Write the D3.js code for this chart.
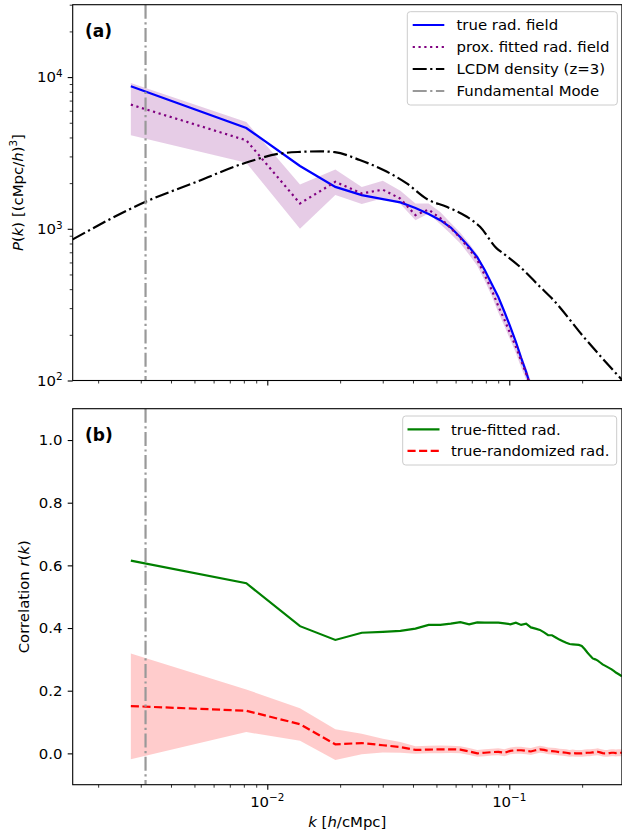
<!DOCTYPE html>
<html><head><meta charset="utf-8">
<script src="https://cdn.jsdelivr.net/npm/d3@7"></script>
<style>
body{margin:0;background:#fff}
svg{display:block}
text{font-family:"DejaVu Sans",sans-serif;fill:#000}
</style>
</head><body><div id="chart"></div>
<script>
// ---------------- DATA ----------------
const kBins = [0.00273,0.00819,0.01365,0.01911,0.02457,0.03003,0.03549,0.04095,0.04641,0.05187,
  0.05733,0.06279,0.06825,0.07371,0.07917,0.08463,0.09009,0.09555,0.10101,0.10647,
  0.11193,0.11739,0.12285,0.12831,0.13377,0.13923,0.14469,0.15015,0.15561,0.16107,
  0.16653,0.17199,0.17745,0.18291,0.18837,0.19383,0.19929,0.20475,0.21021,0.21567,
  0.22113,0.22659,0.23205,0.23751,0.24297,0.24843,0.25389,0.25935,0.26481,0.27027,
  0.27573,0.28119,0.28665,0.29211];
const pTrue   = [8690,4617,2595,1888,1667,1570,1492,1370,1250,1140,1020,880,760,650,535,432,355,283,226,180,141,114,90];
const pFitted = [6580,3830,1469,2040,1710,1810,1580,1230,1337,1175,1011,869,736,623,496,395,309,251,203,167,135,111,90];
const pFittedHi = [9130,5060,1960,2460,1888,2070,1780,1469,1469,1290,1092,940,800,680,545,435,340,276,223,184,149,122,99];
const pFittedLo = [4130,2720,1000,1667,1456,1592,1456,1140,1262,1070,923,800,675,570,455,360,281,228,185,152,122,101,82];
const lcdmK = [0.00157,0.00314,0.0051,0.0082,0.0113,0.0137,0.0165,0.0190,0.0241,0.0302,0.0377,0.0460,0.0551,0.0668,0.0757,0.0887,0.0944,0.1106,0.1339,0.152,0.2023,0.292];
const lcdmP = [851,1507,2040,2735,3134,3213,3240,3200,2840,2440,1990,1560,1396,1200,1030,743,689,562,415,340,195,101];
const kFundamental = 0.00314;
const rFitted = [0.615,0.543,0.406,0.362,0.385,0.388,0.391,0.398,0.410,0.410,
  0.414,0.419,0.412,0.418,0.417,0.417,0.417,0.415,0.412,0.417,
  0.410,0.414,0.402,0.398,0.394,0.386,0.377,0.377,0.370,0.363,
  0.358,0.353,0.349,0.348,0.347,0.346,0.343,0.333,0.322,0.312,
  0.303,0.300,0.296,0.290,0.284,0.280,0.276,0.272,0.268,0.263,
  0.258,0.254,0.250,0.246];
const rRandom = [0.151,0.136,0.093,0.029,0.033,0.026,0.020,0.011,0.012,0.013,
  0.013,0.012,0.006,0.000,0.002,0.004,0.005,0.002,0.008,0.010,
  0.010,0.008,0.006,0.010,0.013,0.011,0.008,0.007,0.006,0.004,
  0.003,0.002,0.000,0.001,0.000,0.000,0.000,0.001,0.002,0.002,
  0.003,0.004,0.005,0.003,0.001,0.000,0.000,0.001,0.002,0.002,
  0.001,0.002,0.002,0.002];
const rRandomLo = [-0.019,0.068,0.040,-0.021,-0.003,0.003,0.002,-0.001,0.000,0.000,
  0.001,0.000,-0.005,-0.011,-0.009,-0.007,-0.006,-0.009,-0.003,-0.001,
  -0.001,-0.003,-0.005,-0.001,0.002,0.000,-0.003,-0.004,-0.005,-0.007,
  -0.008,-0.009,-0.011,-0.010,-0.011,-0.011,-0.011,-0.010,-0.009,-0.009,
  -0.008,-0.007,-0.006,-0.008,-0.010,-0.011,-0.011,-0.010,-0.009,-0.009,
  -0.010,-0.009,-0.009,-0.009];
const rRandomHi = [0.319,0.204,0.144,0.077,0.063,0.047,0.036,0.023,0.024,0.025,
  0.024,0.023,0.017,0.011,0.013,0.015,0.016,0.013,0.019,0.021,
  0.021,0.019,0.017,0.021,0.024,0.022,0.019,0.018,0.017,0.015,
  0.014,0.013,0.011,0.012,0.011,0.011,0.011,0.012,0.013,0.013,
  0.014,0.015,0.016,0.014,0.012,0.011,0.011,0.012,0.013,0.013,
  0.012,0.013,0.013,0.013];
const xTicksMajor = [0.01, 0.1];
const xTickExp = ["−2", "−1"];
const yTicksTop = [100, 1000, 10000];
const yTickTopExp = ["2", "3", "4"];
const yTicksBottom = [0.0, 0.2, 0.4, 0.6, 0.8, 1.0];
const legendTop = ["true rad. field", "prox. fitted rad. field", "LCDM density (z=3)", "Fundamental Mode"];
const legendBottom = ["true-fitted rad.", "true-randomized rad."];

// ---------------- LAYOUT ----------------
const W = 622, H = 832;
const L = 72.7, R = 621.9;
const t1 = 4.7, b1 = 380.5, t2 = 408.7, b2 = 784.7;
const FS = 14.9, SUP = 10.4;
const svg = d3.select("#chart").append("svg").attr("width", W).attr("height", H);

const x = d3.scaleLog().domain([0.00157, 0.292]).range([L, R]);
const yP = d3.scaleLog().domain([100, 30000]).range([b1, t1]);
const yR = d3.scaleLinear().domain([-0.1, 1.1]).range([b2, t2]);

const defs = svg.append("defs");
defs.append("clipPath").attr("id","c1").append("rect").attr("x",L).attr("y",t1).attr("width",R-L).attr("height",b1-t1);
defs.append("clipPath").attr("id","c2").append("rect").attr("x",L).attr("y",t2).attr("width",R-L).attr("height",b2-t2);

const LW = 2.2;
const styles = {
  blue:   {stroke:"#0000ff", dash:null},
  purple: {stroke:"#800080", dash:"2.2,3.6"},
  black:  {stroke:"#000000", dash:"14,3.5,2.2,3.5"},
  gray:   {stroke:"#999999", dash:"14,3.5,2.2,3.5"},
  green:  {stroke:"#008000", dash:null},
  red:    {stroke:"#ff0000", dash:"8.1,3.5"}
};
function styleLine(sel, st){
  sel.attr("fill","none").attr("stroke",st.stroke).attr("stroke-width",LW);
  if (st.dash) sel.attr("stroke-dasharray", st.dash);
  return sel;
}

// ---------------- PANEL (a) ----------------
const g1 = svg.append("g").attr("clip-path","url(#c1)");
const idxTop = d3.range(pTrue.length);
g1.append("path")
  .attr("d", d3.area().x(i=>x(kBins[i])).y0(i=>yP(pFittedLo[i])).y1(i=>yP(pFittedHi[i]))(idxTop))
  .attr("fill","#800080").attr("fill-opacity",0.2).attr("stroke","none");
styleLine(g1.append("path").attr("d", d3.line().x(i=>x(kBins[i])).y(i=>yP(pTrue[i]))(idxTop)), styles.blue);
styleLine(g1.append("path").attr("d", d3.line().x(i=>x(kBins[i])).y(i=>yP(pFitted[i]))(idxTop)), styles.purple);
styleLine(g1.append("path").attr("d", d3.line().curve(d3.curveMonotoneX).x(i=>x(lcdmK[i])).y(i=>yP(lcdmP[i]))(d3.range(lcdmK.length))), styles.black);
styleLine(g1.append("line").attr("x1",x(kFundamental)).attr("x2",x(kFundamental)).attr("y1",t1).attr("y2",b1), styles.gray);

// ---------------- PANEL (b) ----------------
const g2 = svg.append("g").attr("clip-path","url(#c2)");
const idxB = d3.range(kBins.length);
g2.append("path")
  .attr("d", d3.area().x(i=>x(kBins[i])).y0(i=>yR(rRandomLo[i])).y1(i=>yR(rRandomHi[i]))(idxB))
  .attr("fill","#ff0000").attr("fill-opacity",0.2).attr("stroke","none");
styleLine(g2.append("path").attr("d", d3.line().x(i=>x(kBins[i])).y(i=>yR(rFitted[i]))(idxB)), styles.green);
styleLine(g2.append("path").attr("d", d3.line().x(i=>x(kBins[i])).y(i=>yR(rRandom[i]))(idxB)), styles.red);
styleLine(g2.append("line").attr("x1",x(kFundamental)).attr("x2",x(kFundamental)).attr("y1",t2).attr("y2",b2), styles.gray);

// ---------------- AXES ----------------
const isMajor = v => Math.abs(Math.log10(v) - Math.round(Math.log10(v))) < 1e-6;
const xMinor = x.ticks().filter(v => !isMajor(v));
const yMinor = yP.ticks().filter(v => !isMajor(v));

function cleanAxis(g, w){
  g.select(".domain").remove();
  g.selectAll(".tick line").attr("stroke","#000").attr("stroke-width",w);
  g.selectAll(".tick text").remove();
}
[b1, b2].forEach(yy => {
  svg.append("g").attr("transform",`translate(0,${yy})`)
    .call(d3.axisBottom(x).tickValues(xTicksMajor).tickSize(5).tickFormat(""))
    .call(g=>cleanAxis(g,1.1));
  svg.append("g").attr("transform",`translate(0,${yy})`)
    .call(d3.axisBottom(x).tickValues(xMinor).tickSize(3).tickFormat(""))
    .call(g=>cleanAxis(g,0.8));
});
svg.append("g").attr("transform",`translate(${L},0)`)
  .call(d3.axisLeft(yP).tickValues(yTicksTop).tickSize(5).tickFormat(""))
  .call(g=>cleanAxis(g,1.1));
svg.append("g").attr("transform",`translate(${L},0)`)
  .call(d3.axisLeft(yP).tickValues(yMinor).tickSize(3).tickFormat(""))
  .call(g=>cleanAxis(g,0.8));
svg.append("g").attr("transform",`translate(${L},0)`)
  .call(d3.axisLeft(yR).tickValues(yTicksBottom).tickSize(5).tickFormat(""))
  .call(g=>cleanAxis(g,1.1));

// tick labels
xTicksMajor.forEach((v,i) => {
  const t = svg.append("text").attr("x", x(v)).attr("y", 807).attr("text-anchor","middle").attr("font-size",FS);
  t.append("tspan").text("10");
  t.append("tspan").attr("dy",-5.6).attr("font-size",SUP).text(xTickExp[i]);
});
yTicksTop.forEach((v,i) => {
  const t = svg.append("text").attr("x", 62.5).attr("y", yP(v)+5.4).attr("text-anchor","end").attr("font-size",FS);
  t.append("tspan").text("10");
  t.append("tspan").attr("dy",-5.6).attr("font-size",SUP).text(yTickTopExp[i]);
});
yTicksBottom.forEach(v => {
  svg.append("text").attr("x", 62.5).attr("y", yR(v)+5.4).attr("text-anchor","end").attr("font-size",FS).text(d3.format(".1f")(v));
});

// spines
[[t1,b1],[t2,b2]].forEach(([a,b]) => {
  svg.append("rect").attr("x",L).attr("y",a).attr("width",R-L).attr("height",b-a)
    .attr("fill","none").attr("stroke","#000").attr("stroke-width",1.1);
});

// axis labels
{
  const t = svg.append("text").attr("transform",`translate(22.5,${(t1+b1)/2}) rotate(-90)`).attr("text-anchor","middle").attr("font-size",FS);
  t.append("tspan").attr("font-style","italic").text("P");
  t.append("tspan").text("(");
  t.append("tspan").attr("font-style","italic").text("k");
  t.append("tspan").text(") [(cMpc/");
  t.append("tspan").attr("font-style","italic").text("h");
  t.append("tspan").text(")");
  t.append("tspan").attr("dy",-5.6).attr("font-size",SUP).text("3");
  t.append("tspan").attr("dy",5.6).text("]");
}
{
  const t = svg.append("text").attr("transform",`translate(28.5,${(t2+b2)/2}) rotate(-90)`).attr("text-anchor","middle").attr("font-size",FS);
  t.append("tspan").text("Correlation ");
  t.append("tspan").attr("font-style","italic").text("r");
  t.append("tspan").text("(");
  t.append("tspan").attr("font-style","italic").text("k");
  t.append("tspan").text(")");
}
{
  const t = svg.append("text").attr("x",(L+R)/2).attr("y",827).attr("text-anchor","middle").attr("font-size",FS);
  t.append("tspan").attr("font-style","italic").text("k");
  t.append("tspan").text(" [");
  t.append("tspan").attr("font-style","italic").text("h");
  t.append("tspan").text("/cMpc]");
}
svg.append("text").attr("x",85).attr("y",37).attr("font-size",17).attr("font-weight","bold").text("(a)");
svg.append("text").attr("x",85).attr("y",441).attr("font-size",17).attr("font-weight","bold").text("(b)");

// ---------------- LEGENDS ----------------
function legend(x0, y0, x1, y1, items, rowY, lx0, lx1, tx){
  svg.append("rect").attr("x",x0).attr("y",y0).attr("width",x1-x0).attr("height",y1-y0)
    .attr("rx",3).attr("fill","#fff").attr("fill-opacity",0.8).attr("stroke","#cccccc").attr("stroke-width",1);
  items.forEach((it,i) => {
    styleLine(svg.append("line").attr("x1",lx0).attr("x2",lx1).attr("y1",rowY[i]).attr("y2",rowY[i]), it.st);
    svg.append("text").attr("x",tx).attr("y",rowY[i]+5.3).attr("font-size",FS).text(it.label);
  });
}
legend(407.3, 11.7, 617.3, 105,
  [{label:legendTop[0],st:styles.blue},{label:legendTop[1],st:styles.purple},{label:legendTop[2],st:styles.black},{label:legendTop[3],st:styles.gray}],
  [25, 47, 69, 91], 412.7, 444.3, 456.5);
legend(402.7, 416, 616.7, 465,
  [{label:legendBottom[0],st:styles.green},{label:legendBottom[1],st:styles.red}],
  [429.3, 450.9], 407.5, 439.5, 451);
</script>
</body></html>
